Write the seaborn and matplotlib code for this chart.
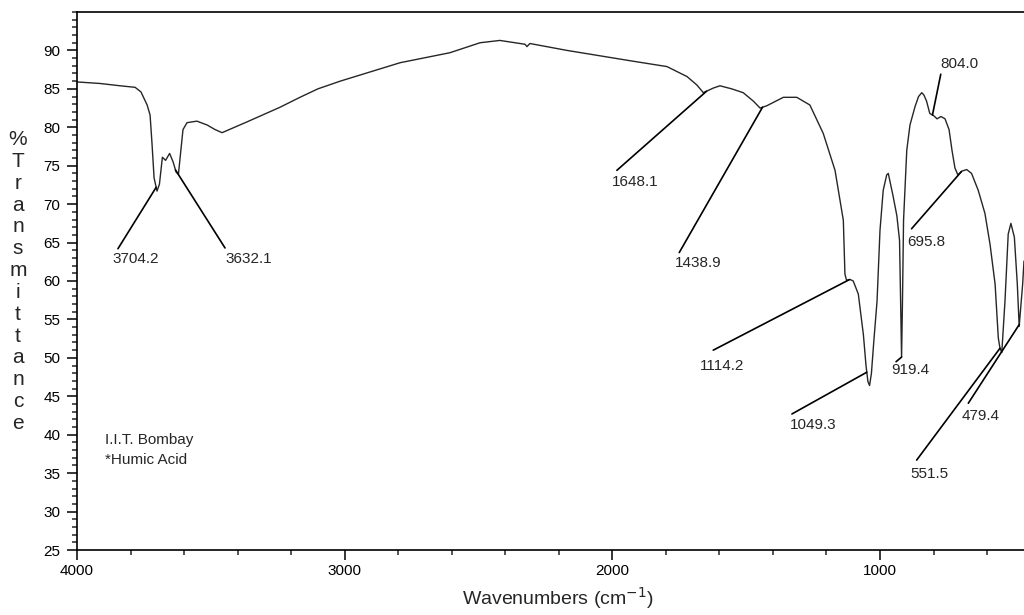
import numpy as np
import matplotlib
matplotlib.use("Agg")
import matplotlib.pyplot as plt
from matplotlib.ticker import MultipleLocator
import seaborn as sns

# FTIR spectrum (wavenumber in cm-1, % transmittance)
wavenumber = [4000, 3914, 3839, 3783, 3761, 3738, 3727, 3720, 3712, 3701,
              3692, 3681, 3669, 3654, 3641, 3630, 3621, 3612, 3604, 3589,
              3552, 3514, 3484, 3458, 3365, 3242, 3167, 3100, 3017, 2793, 2607,
              2494, 2420, 2326, 2319, 2308, 2169, 1923, 1796, 1721, 1684,
              1660, 1623, 1598, 1554, 1511, 1473, 1448, 1423, 1361, 1311,
              1262, 1212, 1168, 1137, 1131, 1125, 1112, 1100, 1081, 1062,
              1052, 1045, 1039, 1032, 1023, 1011, 1000, 988, 975, 969,
              952, 937, 927, 923, 919.4, 916, 912, 900, 888, 869,
              856, 844, 836, 826, 814, 799, 787, 772, 757, 742,
              731, 720, 709, 694, 676, 658, 633, 608, 589, 570,
              558, 552, 545, 533, 521, 511, 498, 487, 480, 467, 462]
transmittance = [85.9, 85.7, 85.4, 85.2, 84.6, 82.9, 81.6, 78.0, 73.4, 71.7,
                 72.6, 76.1, 75.7, 76.6, 75.5, 74.2, 73.9, 77.0, 79.7, 80.6,
                 80.8, 80.3, 79.7, 79.3, 80.7, 82.6, 83.9, 85.0, 86.0, 88.4, 89.7,
                 91.0, 91.3, 90.8, 90.5, 90.9, 90.0, 88.6, 87.9, 86.6, 85.5,
                 84.5, 85.1, 85.4, 85.0, 84.5, 83.4, 82.5, 82.8, 83.9, 83.9,
                 82.9, 79.2, 74.4, 67.9, 60.9, 60.1, 60.2, 60.0, 58.3, 53.0,
                 48.9, 46.9, 46.4, 48.0, 52.2, 57.4, 66.6, 71.8, 73.8, 74.0,
                 71.2, 68.5, 65.3, 57.4, 50.1, 57.4, 67.9, 77.0, 80.3, 82.7,
                 84.0, 84.5, 84.2, 83.4, 81.8, 81.5, 81.1, 81.4, 81.1, 79.7,
                 77.0, 74.7, 73.8, 74.3, 74.5, 74.0, 71.8, 68.8, 64.8, 59.6,
                 52.6, 51.3, 50.7, 57.4, 66.1, 67.5, 65.7, 59.6, 54.1, 59.6, 62.6]

# peak labels
peak_text = ["3704.2", "3632.1", "1648.1", "1438.9", "1114.2", "1049.3",
             "919.4", "804.0", "695.8", "551.5", "479.4"]
peak_pos = [3704.2, 3632.1, 1648.1, 1438.9, 1114.2, 1049.3,
            919.4, 804.0, 695.8, 551.5, 479.4]
# where the label text sits and where its leader line starts
text_x = [3869, 3447, 2001, 1766, 1672, 1336, 959, 776, 899, 888, 694]
text_y = [62.9, 62.9, 72.9, 62.4, 48.9, 41.3, 48.4, 88.2, 65.1, 34.9, 42.4]
lead_x = [3847, 3447, 1983, 1750, 1623, 1329, 940, 773, 882, 863, 670]
lead_y = [64.2, 64.3, 74.4, 63.7, 51.0, 42.7, 49.5, 86.9, 66.8, 36.7, 44.1]

sns.set_style("ticks")
plt.rcParams['font.family'] = ['Liberation Sans', 'DejaVu Sans']

fig = plt.figure(figsize=(10.24, 6.15), dpi=100)
ax = fig.add_axes([77 / 1024, 1 - 550 / 615, 947 / 1024, 538 / 615])

sns.lineplot(x=wavenumber, y=transmittance, ax=ax, color="#262626",
             linewidth=1.0, sort=False, estimator=None)

wn_sorted = np.array(wavenumber)[::-1]
t_sorted = np.array(transmittance)[::-1]
for txt, pos, tx, ty, lx, ly in zip(peak_text, peak_pos, text_x, text_y, lead_x, lead_y):
    py = np.interp(pos, wn_sorted, t_sorted)
    ax.plot([lx, pos], [ly, py], color="black", linewidth=1.2)
    ax.text(tx, ty, txt, ha="left", va="center", fontsize=11)

ax.text(3895, 39.3, "I.I.T. Bombay", ha="left", va="center", fontsize=11)
ax.text(3895, 36.7, "*Humic Acid", ha="left", va="center", fontsize=11)

ax.set_xlim(4000, 462)
ax.set_ylim(25, 95)
ax.set_xticks([4000, 3000, 2000, 1000])
ax.xaxis.set_minor_locator(MultipleLocator(200))
ax.set_yticks(range(25, 91, 5))
ax.yaxis.set_minor_locator(MultipleLocator(1))
ax.tick_params(axis="both", which="major", direction="out", length=7,
               width=1.1, labelsize=11, colors="black")
ax.tick_params(axis="y", which="major", pad=5)
ax.tick_params(axis="x", which="major", pad=3)
ax.tick_params(axis="both", which="minor", direction="out", length=3.5, width=1.1)

for side in ["top", "left", "bottom"]:
    ax.spines[side].set_linewidth(1.2)
    ax.spines[side].set_color("black")
ax.spines["right"].set_visible(False)

ax.set_xlabel("Wavenumbers (cm$^{-1}$)", fontsize=14)
ax.xaxis.set_label_coords(0.508, -0.066)
ax.set_ylabel("")
fig.text(18 / 1024, 1 - 281.5 / 615, "\n".join("%Transmittance"),
         ha="center", va="center", fontsize=15, linespacing=1.19,
         multialignment="center")

fig.savefig("out.png", dpi=100)
